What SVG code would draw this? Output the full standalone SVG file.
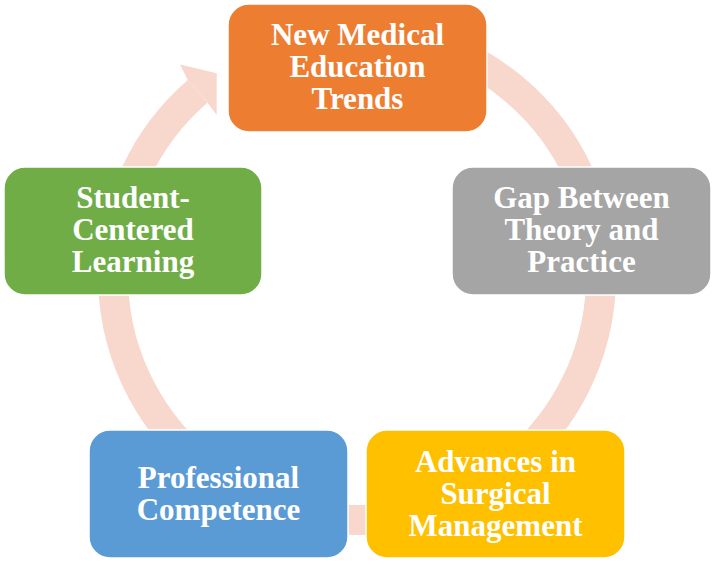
<svg xmlns="http://www.w3.org/2000/svg" width="714" height="564" viewBox="0 0 714 564">
<style>
.box{stroke:#ffffff;stroke-width:1.5}
.t{font-family:"Liberation Serif","Times New Roman",serif;font-weight:bold;font-size:31px;fill:#ffffff;text-anchor:middle}
.ring{fill:none;stroke:#F8D7CC;stroke-width:30}
</style>
<rect width="714" height="564" fill="#ffffff"/>
<g id="connectors">
<path class="ring" d="M420.2,40.3 A244,244 0 1 1 197.6,91.3"/>
<polygon points="187.8,79.9 180,64.5 216.7,73.3 216.7,115 207.4,102.6" fill="#F8D7CC"/>
</g>
<g id="node1">
<rect class="box" x="228" y="4" width="259" height="128" rx="21" fill="#ED7D31"/>
<text class="t" x="357.5" y="45">New Medical</text>
<text class="t" x="357.5" y="77">Education</text>
<text class="t" x="357.5" y="109">Trends</text>
</g>
<g id="node2">
<rect class="box" x="452" y="167" width="259" height="128" rx="21" fill="#A5A5A5"/>
<text class="t" x="581.5" y="208">Gap Between</text>
<text class="t" x="581.5" y="240">Theory and</text>
<text class="t" x="581.5" y="272">Practice</text>
</g>
<g id="node3">
<rect class="box" x="366" y="430" width="259" height="128" rx="21" fill="#FFC000"/>
<text class="t" x="495.5" y="472">Advances in</text>
<text class="t" x="495.5" y="504">Surgical</text>
<text class="t" x="495.5" y="536">Management</text>
</g>
<g id="node4">
<rect class="box" x="89" y="430" width="259" height="128" rx="21" fill="#5B9BD5"/>
<text class="t" x="218.5" y="488">Professional</text>
<text class="t" x="218.5" y="520">Competence</text>
</g>
<g id="node5">
<rect class="box" x="4" y="167" width="258" height="128" rx="21" fill="#70AD47"/>
<text class="t" x="133" y="208">Student-</text>
<text class="t" x="133" y="240">Centered</text>
<text class="t" x="133" y="272">Learning</text>
</g>
</svg>
